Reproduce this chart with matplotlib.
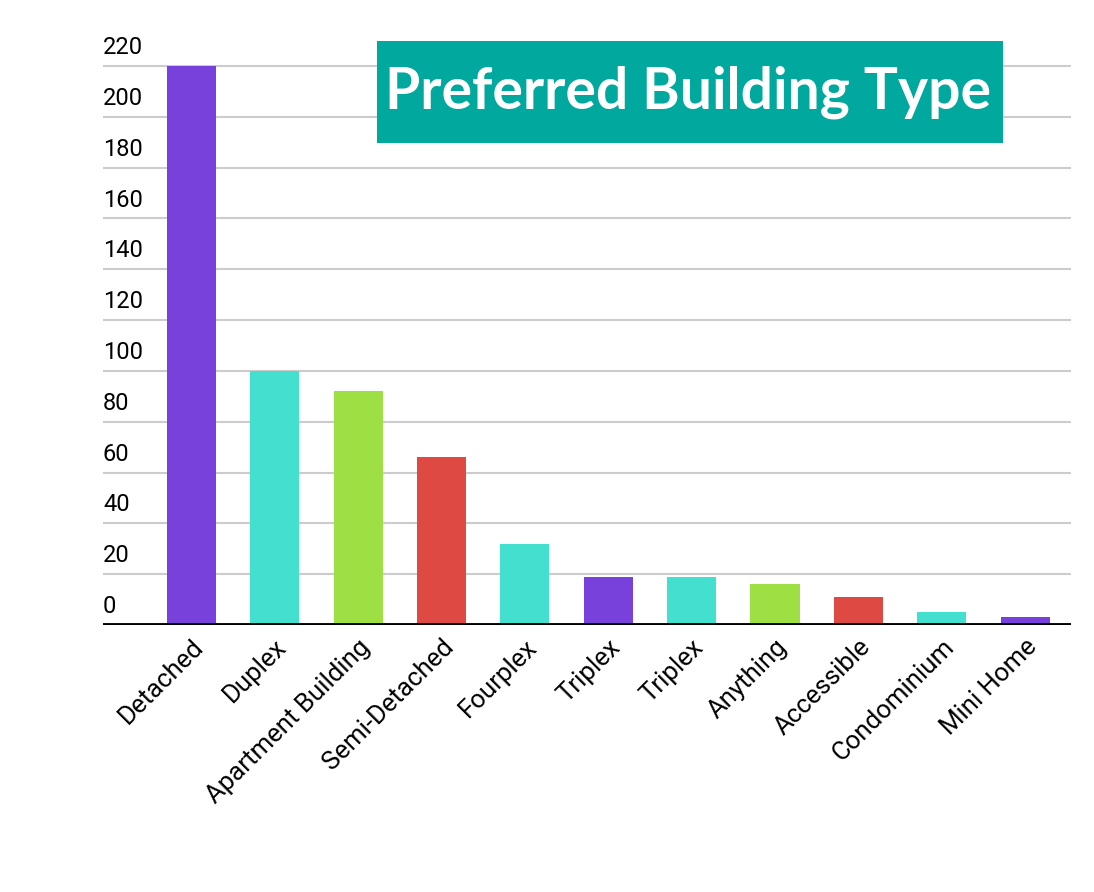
import matplotlib
matplotlib.use("Agg")
import matplotlib.pyplot as plt
from matplotlib.patches import Rectangle

# data
categories = ["Detached", "Duplex", "Apartment Building", "Semi-Detached", "Fourplex",
              "Triplex", "Triplex", "Anything", "Accessible", "Condominium", "Mini Home"]
counts = [220, 100, 92, 66, 32, 19, 19, 16, 11, 5, 3]
y_ticks = [0, 20, 40, 60, 80, 100, 120, 140, 160, 180, 200, 220]

purple = "#7841DC"
turquoise = "#43E0D0"
green = "#9EDF44"
red = "#DF4943"
bar_colors = [purple, turquoise, green, red, turquoise,
              purple, turquoise, green, red, turquoise, purple]

plt.rcParams["font.family"] = ["Roboto", "DejaVu Sans"]

fig = plt.figure(figsize=(10.94, 8.92), dpi=100)
ax = fig.add_axes([0.0941, 0.2993, 0.8849, 0.6324])

x = list(range(len(categories)))
ax.bar(x, counts, width=0.59, color=bar_colors, zorder=3)

ax.set_xlim(-1.06, 10.55)
ax.set_ylim(0, 222)

# gridlines
for v in y_ticks[1:]:
    ax.axhline(v, color="#cccccc", linewidth=1.5, zorder=1)
ax.axhline(0, color="black", linewidth=3.5, zorder=4)

# y labels sit above their gridline, left aligned
ax.set_yticks([])
for v in y_ticks:
    ax.annotate(str(v), xy=(0, v), xycoords=ax.get_yaxis_transform(),
                xytext=(0, 5), textcoords="offset points",
                ha="left", va="bottom", fontsize=17, color="black")

ax.set_xticks(x)
ax.set_xticklabels(categories, rotation=45, ha="right", rotation_mode="anchor",
                   fontsize=18.5)
ax.tick_params(axis="x", length=0, pad=7)

for s in ax.spines.values():
    s.set_visible(False)

# title box
fig.patches.append(Rectangle((377 / 1094, 1 - 143 / 892), 626 / 1094, 102 / 892,
                             transform=fig.transFigure, facecolor="#00A89D",
                             edgecolor="none", zorder=5))
fig.text(688 / 1094, 1 - 92 / 892, "Preferred Building Type", color="white",
         fontsize=41, fontweight="bold", family=["Lato", "DejaVu Sans"],
         ha="center", va="center", zorder=6)

fig.savefig("out.png", dpi=100)
